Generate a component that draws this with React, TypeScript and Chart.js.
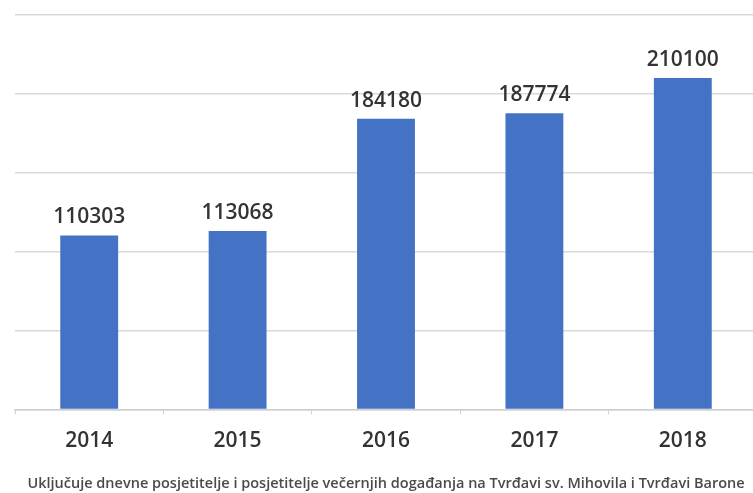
import React, { useEffect, useRef } from "react";
import { Chart, registerables } from "chart.js";

Chart.register(...registerables);

const years: string[] = ["2014", "2015", "2016", "2017", "2018"];
const visitors: number[] = [110303, 113068, 184180, 187774, 210100];
const yMax = 250000;
const yStep = 50000;
const footnote =
  "Uključuje dnevne posjetitelje i posjetitelje večernjih događanja na Tvrđavi sv. Mihovila i Tvrđavi Barone";

const valueLabels = {
  id: "valueLabels",
  afterDatasetsDraw(chart: any) {
    const ctx = chart.ctx;
    const meta = chart.getDatasetMeta(0);
    ctx.save();
    ctx.font = "600 21px 'Open Sans'";
    ctx.fillStyle = "#333333";
    ctx.textAlign = "center";
    ctx.textBaseline = "alphabetic";
    meta.data.forEach((bar: any, i: number) => {
      ctx.fillText(String(chart.data.datasets[0].data[i]), bar.x, bar.y - 12);
    });
    ctx.restore();
  },
};

export default function App() {
  const ref = useRef<HTMLCanvasElement>(null);
  useEffect(() => {
    if (!ref.current) return;
    const chart = new Chart(ref.current, {
      type: "bar",
      data: {
        labels: years,
        datasets: [
          {
            data: visitors,
            backgroundColor: "#4472C4",
            borderWidth: 0,
            barPercentage: 0.39,
            categoryPercentage: 1,
          },
        ],
      },
      options: {
        animation: false,
        responsive: false,
        maintainAspectRatio: false,
        layout: { padding: { left: 15, right: 3, top: 15, bottom: 0 } },
        plugins: {
          legend: { display: false },
          tooltip: { enabled: false },
          title: {
            display: true,
            position: "bottom",
            text: footnote,
            color: "#4a4a4a",
            font: { family: "'Open Sans'", size: 14.5, weight: "600" },
            padding: { top: 8, bottom: 0 },
          },
        },
        scales: {
          x: {
            grid: {
              drawOnChartArea: false,
              drawTicks: true,
              tickLength: 5,
              color: "#d0d0d0",
            },
            border: { display: true, color: "#cfcfcf", width: 1.5 },
            ticks: {
              color: "#333333",
              padding: 14,
              font: { family: "'Open Sans'", size: 21, weight: "600" },
            },
          },
          y: {
            min: 0,
            max: yMax,
            ticks: { display: false, stepSize: yStep },
            grid: { color: "#d9d9d9", lineWidth: 1.5, drawTicks: false },
            border: { display: false },
          },
        },
      },
      plugins: [valueLabels],
    });
    return () => chart.destroy();
  }, []);
  return (
    <div
      style={{
        position: "fixed",
        left: 0,
        top: 0,
        width: 753,
        height: 493,
        overflow: "hidden",
        background: "#fff",
      }}
    >
      <canvas ref={ref} width={760} height={493} style={{ display: "block" }} />
    </div>
  );
}
